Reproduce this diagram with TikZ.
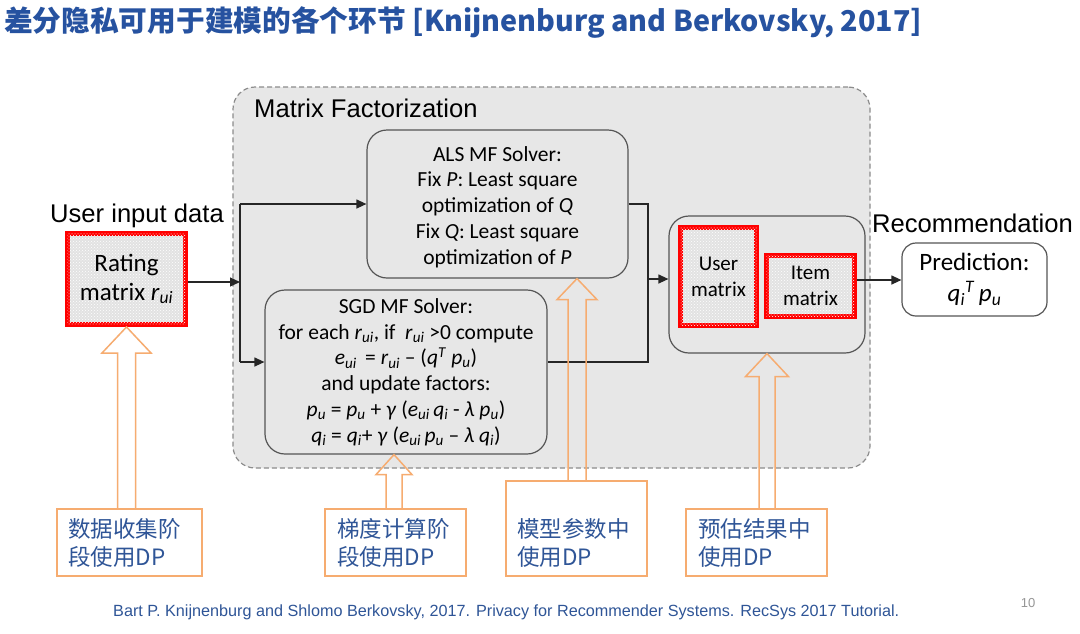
\documentclass[tikz,border=0pt]{standalone}
\usepackage{fontspec}
\setmainfont{Carlito}
\newfontfamily\arialf{Liberation Sans}
\newfontfamily\cjkf{Noto Sans CJK SC}
\usetikzlibrary{arrows.meta,patterns,calc}
\definecolor{titleblue}{RGB}{38,82,160}
\definecolor{textblue}{RGB}{47,85,151}
\definecolor{dporange}{RGB}{246,172,112}
\definecolor{regiongray}{RGB}{231,231,231}
\definecolor{borderdark}{RGB}{85,85,85}
\definecolor{dashgray}{RGB}{140,140,140}
\definecolor{matfill}{RGB}{226,226,226}
\definecolor{pagegray}{RGB}{150,150,150}
\newcommand{\hollowup}[5]{% #1 base anchor, #2 tip, #3 half shaft, #4 half head, #5 head length
  \draw[dparrow] let \p1=(#1), \p2=(#2) in
    (\x2-#3,\y1) -- (\x2-#3,\y2-#5) -- (\x2-#4,\y2-#5) -- (\x2,\y2)
    -- (\x2+#4,\y2-#5) -- (\x2+#3,\y2-#5) -- (\x2+#3,\y1);}
\begin{document}
\begin{tikzpicture}[x=1pt,y=-1pt,
  solver/.style={draw=borderdark, line width=1.2pt, rounded corners=20pt, align=center, inner sep=0pt},
  matbox/.style={draw=red, line width=5pt, fill=matfill, postaction={pattern=crosshatch dots, pattern color=white}, align=center, inner sep=0pt},
  dpbox/.style={draw=dporange, line width=1.5pt, fill=white, inner sep=0pt},
  dptext/.style={anchor=west, align=left, inner sep=0pt, text=textblue, font=\cjkf\fontsize{22.5}{28}\selectfont},
  dparrow/.style={draw=dporange, line width=1.5pt},
  conn/.style={draw=black!85, line width=1.2pt},
  arr/.style={conn, -{Triangle[length=10pt,width=9pt]}},
  lbl/.style={inner sep=0pt, font=\arialf\fontsize{25.6}{28}\selectfont}
]
\useasboundingbox (0,0) rectangle (1080,633);
\fill[white] (0,0) rectangle (1080,633);

% title
\node[anchor=west, inner sep=0pt, text=titleblue, font=\cjkf\bfseries\fontsize{28.7}{28.7}\selectfont] (title) at (4,22) {差分隐私可用于建模的各个环节 [Knijnenburg and Berkovsky, 2017]};

% matrix factorization region
\node[draw=dashgray, dashed, dash pattern=on 5pt off 3pt, line width=1.2pt, fill=regiongray, rounded corners=22pt, minimum width=637pt, minimum height=381pt, inner sep=0pt] (mf) at (551.5,277.5) {};
\node[lbl, anchor=base west] (mflabel) at (254,117) {Matrix Factorization};

% labels outside
\node[lbl, anchor=base west] (uid) at (50,222) {User input data};
\node[lbl, anchor=base west] (rec) at (872,232) {Recommendation};

% rating matrix
\node[matbox, minimum width=118pt, minimum height=91pt, font=\fontsize{25}{29}\selectfont] (rating) at (126.5,279)
  {Rating\\matrix \textit{r}\textsubscript{\textit{ui}}};

% ALS solver
\node[solver, minimum width=261pt, minimum height=148pt, font=\fontsize{21.5}{25.8}\selectfont] (als) at (497.5,204) {};
\node[align=center, inner sep=0pt, font=\fontsize{21.5}{25.8}\selectfont] (alst) at (497.5,207)
  {ALS MF Solver:\\Fix \textit{P}: Least square\\optimization of \textit{Q}\\Fix \textit{Q}: Least square\\optimization of \textit{P}};

% SGD solver
\node[solver, minimum width=282pt, minimum height=164pt, font=\fontsize{21.5}{25.8}\selectfont] (sgd) at (406,372)
  {SGD MF Solver:\\
   for each \textit{r}\textsubscript{\textit{ui}}, if\ \ \textit{r}\textsubscript{\textit{ui}} >0 compute\\
   \textit{e}\textsubscript{\textit{ui}}\ \,=\ \textit{r}\textsubscript{\textit{ui}} -- (\textit{q}\textsuperscript{\textit{T}} \textit{p}\textsubscript{\textit{u}})\\
   and update factors:\\
   \textit{p}\textsubscript{\textit{u}} =\ \textit{p}\textsubscript{\textit{u}} + \textit{γ} (\textit{e}\textsubscript{\textit{ui}}\,\textit{q}\textsubscript{\textit{i}} - \textit{λ p}\textsubscript{\textit{u}})\\
   \textit{q}\textsubscript{\textit{i}}\ =\ \textit{q}\textsubscript{\textit{i}}+ \textit{γ} (\textit{e}\textsubscript{\textit{ui}}\,\textit{p}\textsubscript{\textit{u}} -- \textit{λ q}\textsubscript{\textit{i}})};

% result box with user & item matrices
\node[solver, minimum width=196pt, minimum height=137pt] (res) at (767,284.5) {};
\node[matbox, minimum width=76pt, minimum height=98pt, font=\fontsize{21}{26}\selectfont] (user) at (718.5,276.5) {User\\matrix};
\node[matbox, minimum width=88pt, minimum height=61pt, font=\fontsize{21}{26}\selectfont] (item) at (810.5,286) {Item\\matrix};

% prediction
\node[solver, rounded corners=14pt, fill=white, minimum width=145pt, minimum height=73pt, font=\fontsize{25}{31}\selectfont] (pred) at (974.5,279.5)
  {Prediction:\\\textit{q}\textsubscript{\textit{i}}\textsuperscript{\textit{T}}\,\textit{p}\textsubscript{\textit{u}}};

% connectors
\coordinate (split) at (240,282);
\coordinate (jt) at (240,204);
\coordinate (jb) at (240,362);
\coordinate (mt) at (648,204);
\coordinate (mb) at (648,362);
\coordinate (mm) at (648,279);
\draw[arr] (rating.east |- split) -- (split);
\draw[conn] (jt) -- (jb);
\draw[arr] (jt) -- (jt -| als.west);
\draw[arr] (jb) -- (jb -| sgd.west);
\draw[conn] (als.east |- mt) -- (mt) -- (mb) -- (mb -| sgd.east);
\draw[arr] (mm) -- (mm -| res.west);
\draw[arr] (item.east |- 0,280) -- (pred.west |- 0,280);

% DP boxes
\node[dpbox, minimum width=145pt, minimum height=67pt] (dp1) at (129.5,542.5) {};
\node[dpbox, minimum width=141pt, minimum height=67pt] (dp2) at (395.5,542.5) {};
\node[dpbox, minimum width=141pt, minimum height=95pt] (dp3) at (576.5,528.5) {};
\node[dpbox, minimum width=141pt, minimum height=67pt] (dp4) at (756.5,542.5) {};
\node[dptext] (dp1t) at (68,543) {数据收集阶\\段使用DP};
\node[dptext] (dp2t) at (337,543) {梯度计算阶\\段使用DP};
\node[dptext] (dp3t) at (517,543) {模型参数中\\使用DP};
\node[dptext] (dp4t) at (698,543) {预估结果中\\使用DP};

% hollow arrows
\coordinate (t2) at ($(sgd.south)+(-12,0)$);
\coordinate (t3) at ($(als.south)+(79.5,0)$);
\hollowup{dp1.north}{rating.south}{9pt}{24.5pt}{26pt}
\hollowup{dp2.north}{t2}{8pt}{18pt}{20pt}
\hollowup{dp3.north}{t3}{9pt}{20pt}{21pt}
\hollowup{dp4.north}{res.south}{8pt}{21.5pt}{23pt}

% footer
\node[anchor=west, inner sep=0pt, text=textblue, font=\arialf\fontsize{16.2}{16.2}\selectfont] (foot) at (113,612)
  {Bart P. Knijnenburg and Shlomo Berkovsky, 2017. Privacy for Recommender Systems. RecSys 2017 Tutorial.};
\node[inner sep=0pt, text=pagegray, font=\arialf\fontsize{13}{13}\selectfont] (page) at (1028,603) {10};
\end{tikzpicture}
\end{document}
